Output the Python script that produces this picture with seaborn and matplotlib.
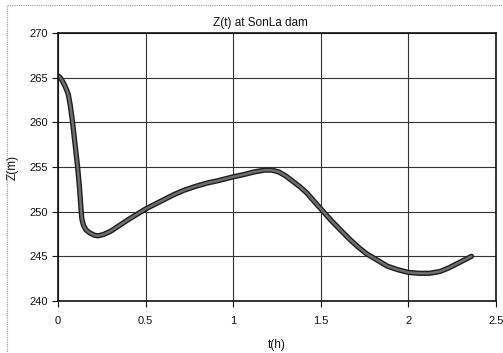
import numpy as np
import pandas as pd
import matplotlib
matplotlib.use("Agg")
import matplotlib.pyplot as plt
import matplotlib.patheffects as pe
import seaborn as sns

# data
t_hours = [0.0, 0.01, 0.02, 0.03, 0.04, 0.05, 0.059, 0.07, 0.082, 0.097, 0.112, 0.123,
           0.131, 0.136, 0.145, 0.16, 0.183, 0.21, 0.23, 0.26, 0.30, 0.354, 0.40, 0.45, 0.50,
           0.55, 0.60, 0.66, 0.72, 0.78, 0.85, 0.92, 1.00, 1.06, 1.12, 1.18, 1.22,
           1.26, 1.30, 1.34, 1.38, 1.42, 1.46, 1.51, 1.56, 1.61, 1.66, 1.71, 1.76,
           1.82, 1.88, 1.94, 2.00, 2.06, 2.12, 2.18, 2.23, 2.28, 2.32, 2.36]
z_level = [265.2, 265.05, 264.8, 264.45, 264.05, 263.6, 263.1, 261.9, 260.2, 257.6, 255.0, 252.6,
           250.4, 249.2, 248.5, 247.95, 247.6, 247.35, 247.3, 247.45, 247.8, 248.5, 249.1, 249.7, 250.3,
           250.8, 251.3, 251.9, 252.4, 252.8, 253.2, 253.5, 253.9, 254.15, 254.45, 254.65, 254.65,
           254.45, 254.0, 253.4, 252.8, 252.1, 251.2, 250.1, 249.0, 248.0, 247.0, 246.1, 245.3,
           244.6, 243.9, 243.5, 243.2, 243.1, 243.1, 243.3, 243.7, 244.2, 244.6, 245.0]
x_ticks = [0, 0.5, 1, 1.5, 2, 2.5]
y_ticks = [240, 245, 250, 255, 260, 265, 270]

df = pd.DataFrame({"t": t_hours, "Z": z_level})

sns.set_theme(style="white")
plt.rcParams['font.family'] = ['Liberation Sans', 'DejaVu Sans']

fig = plt.figure(figsize=(5.03, 3.53), dpi=100)
ax = fig.add_axes([58/503, 1-301/353, 438/503, 268/353])

sns.lineplot(data=df, x="t", y="Z", ax=ax, color="#6e6e6e", linewidth=1.8,
             sort=False, solid_capstyle="round", solid_joinstyle="round",
             path_effects=[pe.Stroke(linewidth=3.8, foreground="#1e1e1e",
                                     capstyle="round", joinstyle="round"), pe.Normal()])

ax.set_xlim(0, 2.5)
ax.set_ylim(240, 270)
ax.set_xticks(x_ticks)
ax.set_xticklabels([f"{v:g}" for v in x_ticks])
ax.set_yticks(y_ticks)
ax.grid(True, color="#333333", linewidth=0.8, linestyle="-")
ax.set_axisbelow(True)
for s in ax.spines.values():
    s.set_color("#111111")
    s.set_linewidth(1.2)
ax.tick_params(axis="both", direction="out", length=4, width=0.8, color="#111111",
               labelsize=8, labelcolor="#111111")
ax.tick_params(axis="x", pad=7, bottom=True)
ax.tick_params(axis="y", pad=3, left=True)

ax.set_xlabel("t(h)", fontsize=8.5, color="#111111", labelpad=9)
ax.set_ylabel("Z(m)", fontsize=8.5, color="#111111", labelpad=8)
ax.text((260-58)/438, 1 + 10/268, "Z(t) at SonLa dam", transform=ax.transAxes,
        ha="center", va="center", fontsize=8.5, color="#111111")

# outer frame (as in the scanned figure)
fig.patches.append(plt.Rectangle((7/503, -0.1), 1.2, 1.1 - 5/353, transform=fig.transFigure,
                                 fill=False, edgecolor="#999999", linewidth=0.8, linestyle=(0, (1, 1))))

fig.savefig("out.png", dpi=100)
